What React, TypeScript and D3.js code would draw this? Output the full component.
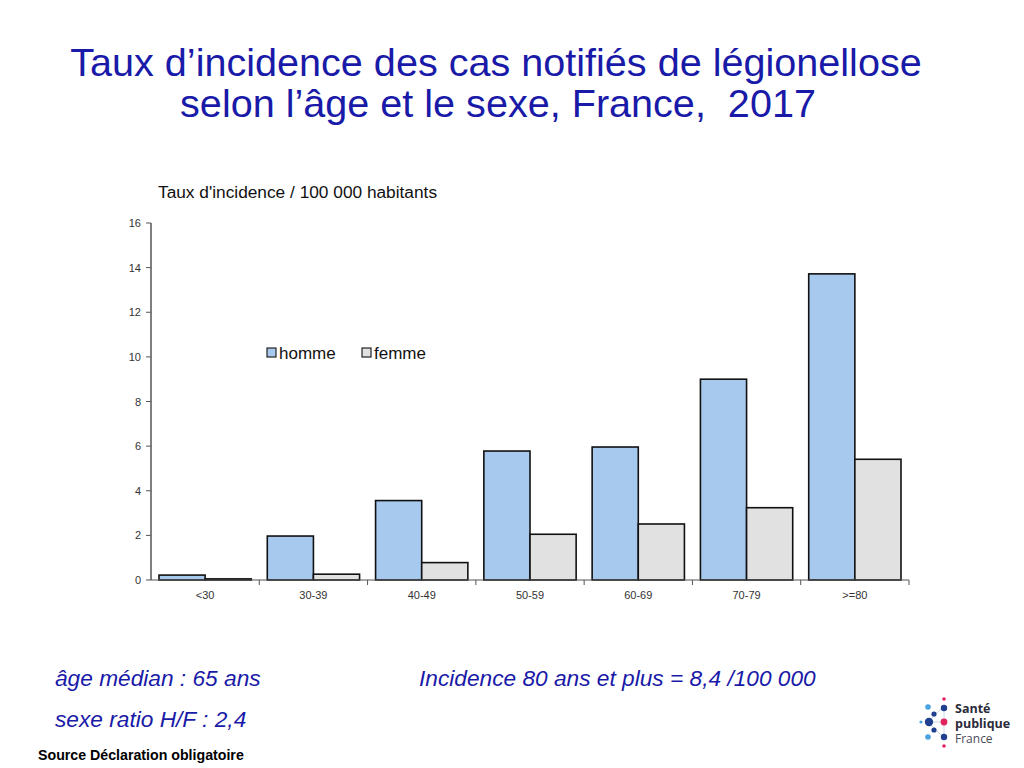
import React from "react";
import * as d3 from "d3";

const categories = ["<30", "30-39", "40-49", "50-59", "60-69", "70-79", ">=80"];
const homme = [0.22, 1.97, 3.56, 5.78, 5.96, 9.0, 13.72];
const femme = [0.05, 0.26, 0.78, 2.05, 2.51, 3.24, 5.41];
const seriesNames = ["homme", "femme"];
const yTicks = [0, 2, 4, 6, 8, 10, 12, 14, 16];

const W = 1024;
const H = 768;
const left = 151;
const right = 909;
const top = 223;
const bottom = 580;

const TITLE_COLOR = "#1a1aa8";
const FONT = "Liberation Sans, Arial, sans-serif";

export default function App() {
  const x = d3.scaleBand<string>().domain(categories).range([left, right]).paddingInner(0).paddingOuter(0);
  const y = d3.scaleLinear().domain([0, 16]).range([bottom, top]);
  const bw = x.bandwidth();
  const pad = 8;
  const barW = (bw - 2 * pad) / 2;

  const colors = ["#a7c9ee", "#e1e1e1"];

  return (
    <svg width={W} height={H} style={{ position: "absolute", left: 0, top: 0, background: "#fff" }} fontFamily={FONT}>
      <rect x={0} y={0} width={W} height={H} fill="#fff" />
      <text x={496} y={76} textAnchor="middle" fontSize={39.6} fill={TITLE_COLOR}>
        Taux d’incidence des cas notifiés de légionellose
      </text>
      <text x={498} y={117} textAnchor="middle" fontSize={39.6} fill={TITLE_COLOR} style={{ whiteSpace: "pre" }}>
        selon l’âge et le sexe, France,  2017
      </text>

      <text x={158} y={198} fontSize={17.3} fill="#111">Taux d'incidence / 100 000 habitants</text>

      {/* bars */}
      {categories.map((c, i) => {
        const x0 = (x(c) as number) + pad;
        return (
          <g key={c}>
            <rect x={x0} y={y(homme[i])} width={barW} height={bottom - y(homme[i])} fill={colors[0]} stroke="#111" strokeWidth={1.6} />
            <rect x={x0 + barW} y={y(femme[i])} width={barW} height={bottom - y(femme[i])} fill={colors[1]} stroke="#111" strokeWidth={1.6} />
          </g>
        );
      })}

      {/* y axis */}
      <line x1={left} x2={left} y1={top} y2={bottom} stroke="#555" strokeWidth={1.5} />
      {yTicks.map((t) => (
        <g key={t}>
          <line x1={left - 5} x2={left} y1={y(t)} y2={y(t)} stroke="#555" />
          <text x={left - 10} y={y(t) + 4} textAnchor="end" fontSize={11} fill="#333">{t}</text>
        </g>
      ))}

      {/* x axis */}
      <line x1={left} x2={right} y1={bottom} y2={bottom} stroke="#555" strokeWidth={1.2} />
      {categories.map((c) => (
        <g key={c}>
          <line x1={(x(c) as number) + bw} x2={(x(c) as number) + bw} y1={bottom} y2={bottom + 5} stroke="#555" />
          <text x={(x(c) as number) + bw / 2} y={bottom + 19} textAnchor="middle" fontSize={11} fill="#333">{c}</text>
        </g>
      ))}

      {/* legend */}
      {seriesNames.map((s, i) => {
        const lx = i === 0 ? 267 : 362;
        return (
          <g key={s}>
            <rect x={lx} y={348} width={9} height={9} fill={colors[i]} stroke="#222" strokeWidth={1.2} />
            <text x={lx + 12} y={359} fontSize={17} fill="#111">{s}</text>
          </g>
        );
      })}

      {/* annotations */}
      <text x={55} y={686} fontSize={22.7} fontStyle="italic" fill={TITLE_COLOR}>âge médian : 65 ans</text>
      <text x={55} y={727} fontSize={22.7} fontStyle="italic" fill={TITLE_COLOR}>sexe ratio H/F : 2,4</text>
      <text x={419} y={686} fontSize={22.7} fontStyle="italic" fill={TITLE_COLOR}>Incidence 80 ans et plus = 8,4 /100 000</text>
      <text x={38} y={760} fontSize={14.2} fontWeight="bold" fill="#000">Source Déclaration obligatoire</text>

      {/* logo */}
      <g>
        <line x1={928} x2={944} y1={722} y2={722} stroke="#c8d6ea" />
        <line x1={944} x2={944} y1={706} y2={738} stroke="#c8d6ea" />
        <line x1={928} x2={944} y1={722} y2={706} stroke="#c8d6ea" />
        <line x1={928} x2={944} y1={722} y2={738} stroke="#c8d6ea" />
        <circle cx={944} cy={699} r={1.8} fill="#e0245e" />
        <circle cx={944} cy={708} r={3.2} fill="#1f3f8f" />
        <circle cx={928} cy={707} r={2.8} fill="#4aa3df" />
        <circle cx={934} cy={714} r={2.6} fill="#1f3f8f" />
        <circle cx={921} cy={722} r={1.6} fill="#4aa3df" />
        <circle cx={929} cy={722} r={4.2} fill="#1f3f8f" />
        <circle cx={944} cy={722} r={3.4} fill="#e0245e" />
        <circle cx={934} cy={730} r={2.6} fill="#1f3f8f" />
        <circle cx={928} cy={737} r={2.8} fill="#4aa3df" />
        <circle cx={944} cy={737} r={3.2} fill="#1f3f8f" />
        <circle cx={944} cy={746} r={1.8} fill="#e0245e" />
        <text x={955} y={713} fontSize={12.5} fontWeight="bold" fill="#2b2b3a" fontFamily="Open Sans, sans-serif">Santé</text>
        <text x={955} y={728} fontSize={12.5} fontWeight="bold" fill="#2b2b3a" fontFamily="Open Sans, sans-serif">publique</text>
        <text x={955} y={743} fontSize={12} fill="#4a4a5a" fontFamily="Open Sans, sans-serif">France</text>
      </g>
    </svg>
  );
}
